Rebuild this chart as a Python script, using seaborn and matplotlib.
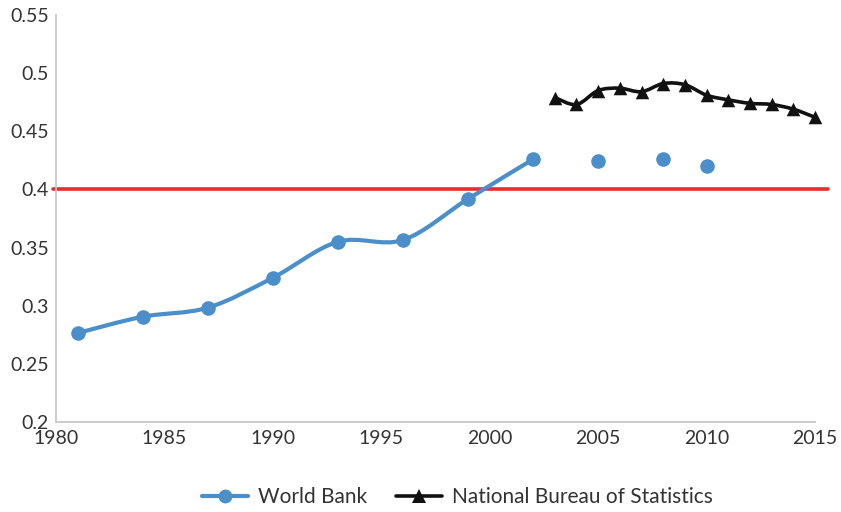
import numpy as np
import pandas as pd
import matplotlib
matplotlib.use("Agg")
import matplotlib.pyplot as plt
from matplotlib.path import Path
from matplotlib.patches import PathPatch
from matplotlib.lines import Line2D
import seaborn as sns

# World Bank estimates (connected part + later isolated points)
wb_years = [1981, 1984, 1987, 1990, 1993, 1996, 1999, 2002]
wb_gini = [0.2765, 0.2905, 0.2983, 0.324, 0.355, 0.3565, 0.3918, 0.4259]
wb_extra_years = [2005, 2008, 2010]
wb_extra_gini = [0.4244, 0.426, 0.420]

# National Bureau of Statistics
nbs_years = [2003, 2004, 2005, 2006, 2007, 2008, 2009, 2010, 2011, 2012, 2013, 2014, 2015]
nbs_gini = [0.479, 0.473, 0.485, 0.487, 0.484, 0.491, 0.490, 0.481, 0.477, 0.474, 0.473, 0.469, 0.462]

warning_line = 0.4

x_ticks = [1980, 1985, 1990, 1995, 2000, 2005, 2010, 2015]
y_ticks = [0.2, 0.25, 0.3, 0.35, 0.4, 0.45, 0.5, 0.55]
y_labels = ["0.2", "0.25", "0.3", "0.35", "0.4", "0.45", "0.5", "0.55"]

BLUE = "#4a8fc9"
RED = "#ec2a30"
BLACK = "#111111"


def smooth_path(xs, ys):
    """Excel-style smoothed line: bezier segments through the points"""
    pts = np.column_stack([xs, ys]).astype(float)
    n = len(pts)
    verts = [pts[0]]
    codes = [Path.MOVETO]
    for i in range(n - 1):
        p0 = pts[i - 1] if i > 0 else pts[i]
        p1 = pts[i]
        p2 = pts[i + 1]
        p3 = pts[i + 2] if i + 2 < n else pts[i + 1]
        c1 = p1 + (p2 - p0) / 6.0
        c2 = p2 - (p3 - p1) / 6.0
        verts += [c1, c2, p2]
        codes += [Path.CURVE4] * 3
    return Path(verts, codes)


sns.set_theme(style="white")
plt.rcParams["font.family"] = ["Lato", "DejaVu Sans"]

fig = plt.figure(figsize=(8.41, 5.12), dpi=100)
ax = fig.add_axes([0.0666, 0.1758, 0.9025, 0.795])

# red reference line (slightly beyond the axes like in the original)
ax.axhline(warning_line, xmin=-0.004, xmax=1.017, color=RED, lw=2.6, clip_on=False, zorder=2)

ax.add_patch(PathPatch(smooth_path(wb_years, wb_gini), fill=False, edgecolor=BLUE, lw=3.0,
                       zorder=3, clip_on=False))
ax.add_patch(PathPatch(smooth_path(nbs_years, nbs_gini), fill=False, edgecolor=BLACK, lw=2.6,
                       zorder=3, clip_on=False))

wb_df = pd.DataFrame({"year": wb_years + wb_extra_years, "gini": wb_gini + wb_extra_gini})
nbs_df = pd.DataFrame({"year": nbs_years, "gini": nbs_gini})

sns.scatterplot(data=wb_df, x="year", y="gini", ax=ax, color=BLUE, marker="o",
                s=110, linewidth=0, zorder=4, legend=False, clip_on=False)
sns.scatterplot(data=nbs_df, x="year", y="gini", ax=ax, color=BLACK, marker="^",
                s=95, linewidth=0, zorder=4, legend=False, clip_on=False)

ax.set_xlim(1980, 2015)
ax.set_ylim(0.2, 0.55)
ax.set_xticks(x_ticks)
ax.set_xticklabels([str(t) for t in x_ticks])
ax.set_yticks(y_ticks)
ax.set_yticklabels(y_labels)
ax.set_xlabel("")
ax.set_ylabel("")
ax.tick_params(axis="both", length=0, labelsize=14, labelcolor="#333333", pad=5)
ax.tick_params(axis="x", pad=6)

for side in ["top", "right"]:
    ax.spines[side].set_visible(False)
for side in ["left", "bottom"]:
    ax.spines[side].set_color("#c8c8c8")
    ax.spines[side].set_linewidth(1.3)

handles = [
    Line2D([], [], color=BLUE, lw=3.0, marker="o", markersize=10, markeredgewidth=0),
    Line2D([], [], color=BLACK, lw=2.6, marker="^", markersize=10, markeredgewidth=0),
]
fig.legend(handles, ["World Bank", "National Bureau of Statistics"], loc="center",
           bbox_to_anchor=(0.544, 0.029), ncol=2, frameon=False, fontsize=15,
           handlelength=2.2, columnspacing=1.35, handletextpad=0.5, labelcolor="#333333")

fig.savefig("out.png", dpi=100)
